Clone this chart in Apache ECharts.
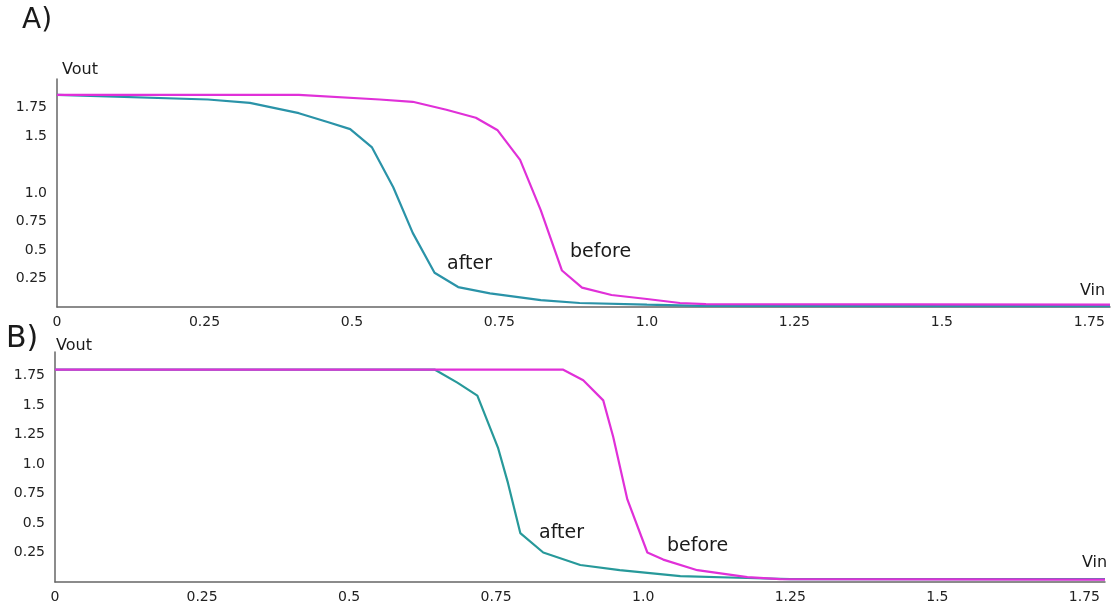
<!DOCTYPE html>
<html>
<head>
<meta charset="utf-8">
<script src="https://cdn.jsdelivr.net/npm/echarts@6/dist/echarts.min.js"></script>
<style>
  html, body { margin: 0; padding: 0; background: #fff; }
  #chart { width: 1118px; height: 605px; }
</style>
</head>
<body>
<div id="chart"></div>
<script>
// tick labels
const xLabels = ['0', '0.25', '0.5', '0.75', '1.0', '1.25', '1.5', '1.75'];
const yLabelsA = ['', '0.25', '0.5', '0.75', '1.0', '', '1.5', '1.75'];
const yLabelsB = ['', '0.25', '0.5', '0.75', '1.0', '1.25', '1.5', '1.75'];

// panel A, [Vin, Vout]
const afterA = [
  [0, 1.86], [0.256, 1.82], [0.327, 1.79], [0.41, 1.7], [0.46, 1.62],
  [0.497, 1.56], [0.534, 1.4], [0.57, 1.05], [0.603, 0.65], [0.64, 0.3],
  [0.68, 0.175], [0.734, 0.12], [0.82, 0.06], [0.886, 0.035], [1.0, 0.02],
  [1.09, 0.01], [1.785, 0.008]
];
const beforeA = [
  [0, 1.86], [0.41, 1.86], [0.547, 1.82], [0.603, 1.8], [0.66, 1.73],
  [0.71, 1.66], [0.747, 1.55], [0.785, 1.29], [0.82, 0.85], [0.856, 0.32],
  [0.89, 0.17], [0.94, 0.105], [1.0, 0.07], [1.056, 0.035], [1.1, 0.025],
  [1.785, 0.02]
];

// panel B
const afterB = [
  [0, 1.8], [0.646, 1.8], [0.684, 1.69], [0.718, 1.58], [0.753, 1.14],
  [0.77, 0.84], [0.791, 0.415], [0.83, 0.25], [0.893, 0.144], [0.96, 0.1],
  [1.063, 0.05], [1.177, 0.034], [1.25, 0.025], [1.785, 0.025]
];
const beforeB = [
  [0, 1.8], [0.864, 1.8], [0.898, 1.71], [0.932, 1.54], [0.949, 1.23],
  [0.973, 0.7], [1.007, 0.25], [1.034, 0.19], [1.092, 0.1], [1.177, 0.042],
  [1.233, 0.025], [1.785, 0.02]
];

const magenta = '#e030d8';
const tealA = '#2a93a8';
const tealB = '#27999a';
const font = 'DejaVu Sans';

function pick(list) {
  return v => {
    const i = Math.round(v / 0.25);
    if (Math.abs(v - i * 0.25) > 1e-6) return '';
    return list[i] || '';
  };
}

function xAxis(idx) {
  return {
    type: 'value', gridIndex: idx, min: 0, max: 1.785, interval: 0.25,
    axisLine: { lineStyle: { color: '#666', width: 1.5 } },
    axisTick: { show: false },
    splitLine: { show: false },
    axisLabel: {
      formatter: pick(xLabels), color: '#222', fontFamily: font, fontSize: 14,
      margin: 8, showMaxLabel: true
    }
  };
}

function yAxis(idx, max, labels) {
  return {
    type: 'value', gridIndex: idx, min: 0, max: max, interval: 0.25,
    axisLine: { show: true, lineStyle: { color: '#666', width: 1.5 } },
    axisTick: { show: false },
    splitLine: { show: false },
    axisLabel: {
      formatter: pick(labels), color: '#222', fontFamily: font, fontSize: 14,
      margin: 10
    }
  };
}

function line(name, data, color, idx) {
  return {
    name: name, type: 'line', data: data, xAxisIndex: idx, yAxisIndex: idx,
    showSymbol: false, lineStyle: { color: color, width: 2.2 }, animation: false
  };
}

function txt(x, y, s, size) {
  return {
    type: 'text', left: x, top: y,
    style: { text: s, fontSize: size, fontFamily: font, fill: '#1a1a1a' }
  };
}

const chart = echarts.init(document.getElementById('chart'));
chart.setOption({
  backgroundColor: '#fff',
  animation: false,
  grid: [
    { left: 57, top: 79, width: 1053, height: 228 },
    { left: 55, top: 352, width: 1050, height: 230 }
  ],
  xAxis: [xAxis(0), xAxis(1)],
  yAxis: [yAxis(0, 2.0, yLabelsA), yAxis(1, 1.95, yLabelsB)],
  series: [
    line('after', afterA, tealA, 0),
    line('before', beforeA, magenta, 0),
    line('after', afterB, tealB, 1),
    line('before', beforeB, magenta, 1)
  ],
  graphic: [
    txt(22, 7, 'A)', 28),
    txt(6, 324, 'B)', 30),
    txt(62, 62, 'Vout', 16),
    txt(56, 338, 'Vout', 16),
    txt(1080, 283, 'Vin', 16),
    txt(1082, 555, 'Vin', 16),
    txt(447, 255, 'after', 19),
    txt(570, 243, 'before', 19),
    txt(539, 524, 'after', 19),
    txt(667, 537, 'before', 19)
  ]
});
</script>
</body>
</html>
